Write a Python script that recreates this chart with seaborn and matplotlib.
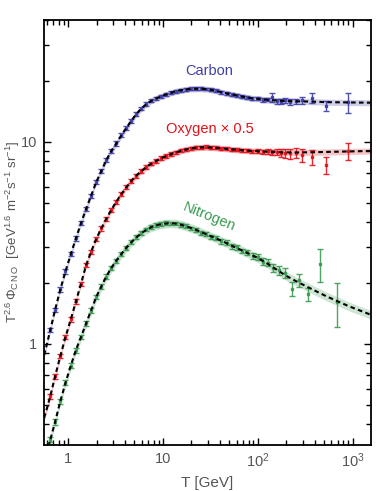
import numpy as np
import pandas as pd
import matplotlib
matplotlib.use("Agg")
import matplotlib.pyplot as plt
import seaborn as sns
from matplotlib.ticker import LogLocator, NullFormatter, FixedLocator, FixedFormatter

# measured energies (GeV/n) for carbon and oxygen
e_co = [0.65, 0.73, 0.83, 0.94, 1.07, 1.21, 1.37, 1.55, 1.75, 1.98, 2.24, 2.53, 2.86, 3.23,
        3.65, 4.12, 4.65, 5.25, 5.93, 6.70, 7.57, 8.55, 9.66, 10.9, 12.3, 13.9, 15.7, 17.7,
        20.0, 22.6, 25.5, 28.8, 32.5, 36.7, 41.5, 46.9, 53.0, 60.0, 68.0, 77.0, 88.0, 100,
        113, 127, 142, 158, 176, 196, 220, 254, 295, 375, 527, 895]
# measured energies for nitrogen
e_n = [0.65, 0.73, 0.83, 0.94, 1.07, 1.21, 1.37, 1.55, 1.75, 1.98, 2.24, 2.53, 2.86, 3.23,
       3.65, 4.12, 4.65, 5.25, 5.93, 6.70, 7.57, 8.55, 9.66, 10.9, 12.3, 13.9, 15.7, 17.7,
       20.0, 22.6, 25.5, 28.8, 32.5, 36.7, 41.5, 46.9, 53.0, 60.0, 68.0, 77.0, 89, 101,
       114, 128, 145, 168, 194, 232, 272, 339, 456, 686]

carbon = [1.17, 1.47, 1.86, 2.28, 2.78, 3.32, 3.95, 4.65, 5.40, 6.30, 7.15, 8.10, 9.00, 9.80,
          10.75, 11.7, 12.7, 13.7, 14.6, 15.4, 15.95, 16.4, 16.8, 17.2, 17.5, 17.8, 18.0, 18.1,
          18.3, 18.3, 18.35, 18.25, 18.05, 17.9, 17.55, 17.4, 17.1, 17.0, 16.7, 16.6, 16.35, 16.4,
          16.1, 16.2, 16.6, 15.9, 15.8, 16.0, 15.7, 15.85, 16.0, 16.5, 15.0, 15.65]
carbon_err = [0.03, 0.04, 0.05, 0.06, 0.07, 0.08, 0.10, 0.11, 0.13, 0.15, 0.17, 0.19, 0.21, 0.23,
              0.25, 0.27, 0.28, 0.3, 0.3, 0.3, 0.3, 0.3, 0.3, 0.3, 0.3, 0.3, 0.3, 0.3,
              0.3, 0.3, 0.3, 0.3, 0.3, 0.3, 0.3, 0.3, 0.3, 0.3, 0.3, 0.3, 0.3, 0.3,
              0.35, 0.35, 0.8, 0.45, 0.45, 0.5, 0.5, 0.5, 0.6, 1.0, 0.85, 1.75]

oxygen = [0.55, 0.69, 0.87, 1.08, 1.32, 1.62, 1.98, 2.45, 2.85, 3.30, 3.72, 4.15, 4.60, 5.05,
          5.50, 5.95, 6.40, 6.80, 7.15, 7.50, 7.80, 8.05, 8.30, 8.50, 8.70, 8.85, 9.05, 9.2,
          9.3, 9.4, 9.4, 9.45, 9.35, 9.35, 9.25, 9.25, 9.15, 9.15, 9.05, 9.05, 8.95, 9.0,
          8.9, 8.95, 8.85, 8.9, 8.8, 8.8, 8.75, 8.8, 8.6, 8.4, 7.65, 9.0]
oxygen_err = [0.015, 0.018, 0.022, 0.027, 0.033, 0.04, 0.05, 0.06, 0.07, 0.08, 0.09, 0.1, 0.11, 0.12,
              0.13, 0.14, 0.15, 0.15, 0.16, 0.16, 0.16, 0.16, 0.16, 0.16, 0.16, 0.16, 0.16, 0.16,
              0.16, 0.16, 0.16, 0.16, 0.16, 0.16, 0.16, 0.16, 0.16, 0.16, 0.16, 0.17, 0.18, 0.2,
              0.22, 0.24, 0.3, 0.35, 0.4, 0.45, 0.5, 0.5, 0.65, 0.7, 0.75, 0.9]

nitrogen = [0.335, 0.41, 0.52, 0.64, 0.78, 0.93, 1.08, 1.26, 1.46, 1.70, 1.92, 2.15, 2.37, 2.58,
            2.79, 2.98, 3.18, 3.36, 3.52, 3.68, 3.78, 3.87, 3.91, 3.95, 3.94, 3.94, 3.87, 3.82,
            3.72, 3.67, 3.55, 3.50, 3.38, 3.34, 3.21, 3.17, 3.04, 3.0, 2.88, 2.84, 2.72, 2.68,
            2.55, 2.52, 2.38, 2.31, 2.24, 1.87, 2.07, 1.76, 2.49, 1.61]
nitrogen_err = [0.01, 0.012, 0.015, 0.018, 0.021, 0.025, 0.03, 0.034, 0.038, 0.043, 0.048, 0.053, 0.058, 0.062,
                0.066, 0.07, 0.072, 0.075, 0.078, 0.08, 0.08, 0.08, 0.08, 0.08, 0.08, 0.08, 0.08, 0.08,
                0.08, 0.08, 0.08, 0.08, 0.08, 0.08, 0.08, 0.08, 0.08, 0.08, 0.08, 0.08, 0.085, 0.09,
                0.1, 0.1, 0.11, 0.12, 0.13, 0.15, 0.15, 0.13, 0.47, 0.4]

# model (fit) curves
e_fit = [0.56, 0.60, 0.65, 0.73, 0.83, 0.94, 1.07, 1.21, 1.37, 1.55, 1.75, 1.98, 2.24, 2.53,
         2.86, 3.23, 3.65, 4.12, 4.65, 5.25, 5.93, 6.70, 7.57, 8.55, 9.66, 10.9, 12.3, 13.9,
         15.7, 17.7, 20.0, 22.6, 25.5, 28.8, 32.5, 36.7, 41.5, 46.9, 53.0, 60.0, 68.0, 77.0,
         88.0, 100, 127, 158, 196, 254, 375, 527, 895, 1570]
carbon_fit = [0.88, 1.0, 1.17, 1.47, 1.86, 2.28, 2.78, 3.32, 3.95, 4.65, 5.40, 6.30, 7.15, 8.10,
              9.00, 9.80, 10.75, 11.7, 12.7, 13.7, 14.6, 15.35, 15.95, 16.4, 16.8, 17.15, 17.5, 17.8,
              18.0, 18.15, 18.25, 18.3, 18.3, 18.2, 18.05, 17.85, 17.6, 17.35, 17.15, 16.95, 16.75, 16.55,
              16.4, 16.3, 16.1, 16.0, 15.9, 15.85, 15.8, 15.7, 15.65, 15.6]
oxygen_fit = [0.43, 0.48, 0.55, 0.69, 0.87, 1.08, 1.32, 1.62, 1.98, 2.45, 2.85, 3.30, 3.72, 4.15,
              4.60, 5.05, 5.50, 5.95, 6.40, 6.80, 7.15, 7.50, 7.80, 8.05, 8.30, 8.50, 8.70, 8.87,
              9.03, 9.16, 9.27, 9.34, 9.38, 9.38, 9.36, 9.32, 9.27, 9.22, 9.17, 9.12, 9.08, 9.04,
              9.0, 8.97, 8.92, 8.88, 8.86, 8.85, 8.87, 8.9, 8.95, 9.0]
nitrogen_fit = [0.26, 0.29, 0.335, 0.41, 0.52, 0.64, 0.78, 0.93, 1.08, 1.26, 1.46, 1.70, 1.92, 2.15,
                2.37, 2.58, 2.78, 2.99, 3.18, 3.36, 3.52, 3.67, 3.78, 3.86, 3.91, 3.94, 3.95, 3.93,
                3.88, 3.81, 3.74, 3.66, 3.57, 3.48, 3.40, 3.32, 3.23, 3.15, 3.06, 2.98, 2.90, 2.82,
                2.74, 2.66, 2.49, 2.33, 2.18, 2.04, 1.86, 1.72, 1.54, 1.39]
band = {"Carbon": 0.035, "Oxygen": 0.035, "Nitrogen": 0.05}

colors = {"Carbon": "#3f3fa6", "Oxygen": "#e3121b", "Nitrogen": "#3a9a52"}
gray = "#555555"

sns.set_style("ticks")
plt.rcParams["font.family"] = ["Liberation Sans", "DejaVu Sans"]
plt.rcParams["mathtext.fontset"] = "custom"
plt.rcParams["mathtext.rm"] = "Liberation Sans"
plt.rcParams["mathtext.it"] = "Liberation Sans:italic"
plt.rcParams["mathtext.bf"] = "Liberation Sans:bold"

fig = plt.figure(figsize=(3.76, 4.91), dpi=100)
ax = fig.add_axes([0.117, 0.094, 0.870, 0.866])

series = [("Carbon", e_co, carbon, carbon_err, carbon_fit),
          ("Oxygen", e_co, oxygen, oxygen_err, oxygen_fit),
          ("Nitrogen", e_n, nitrogen, nitrogen_err, nitrogen_fit)]

for name, e, y, err, fit in series:
    c = colors[name]
    fit = np.array(fit)
    ax.fill_between(e_fit, fit * (1 - band[name]), fit * (1 + band[name]),
                    color=c, alpha=0.25, lw=0, zorder=1)
    ax.errorbar(e, y, yerr=err, fmt="s", ms=2.0, color=c, ecolor=c, elinewidth=1.0,
                capsize=2.2, capthick=1.0, alpha=0.9, zorder=2)
    df = pd.DataFrame({"E": e_fit, "flux": fit})
    sns.lineplot(data=df, x="E", y="flux", ax=ax, color="black", lw=1.5,
                 linestyle=(0, (2.2, 1.6)), zorder=3)

ax.set_xscale("log")
ax.set_yscale("log")
ax.set_xlim(0.558, 1570)
ax.set_ylim(0.316, 40.2)

ax.xaxis.set_major_locator(FixedLocator([1, 10, 100, 1000]))
ax.xaxis.set_major_formatter(FixedFormatter(["1", "10", r"10$^2$", r"10$^3$"]))
ax.xaxis.set_minor_locator(LogLocator(base=10, subs=np.arange(2, 10), numticks=20))
ax.xaxis.set_minor_formatter(NullFormatter())
ax.yaxis.set_major_locator(FixedLocator([1, 10]))
ax.yaxis.set_major_formatter(FixedFormatter(["1", "10"]))
ax.yaxis.set_minor_locator(LogLocator(base=10, subs=np.arange(2, 10), numticks=20))
ax.yaxis.set_minor_formatter(NullFormatter())

ax.tick_params(which="both", direction="in", top=True, right=True, colors="black",
               labelcolor=gray, labelsize=10.5, width=1.0)
ax.tick_params(which="major", length=5, pad=5)
ax.tick_params(which="minor", length=3.5)
for s in ax.spines.values():
    s.set_linewidth(1.3)
    s.set_color("black")

ax.set_xlabel("T [GeV]", color=gray, fontsize=11, labelpad=4)
ax.set_ylabel(r"T$^{2.6}\,\Phi_{\rm C\,N\,O}$  [GeV$^{1.6}$ m$^{-2}$s$^{-1}$ sr$^{-1}$]",
              color=gray, fontsize=9.5)
ax.yaxis.set_label_coords(-0.068, 0.5)

ax.text(31, 22.4, "Carbon", color=colors["Carbon"], fontsize=10.5, ha="center", va="center")
ax.text(31, 11.5, "Oxygen \u00d7 0.5", color=colors["Oxygen"], fontsize=10.5, ha="center", va="center")
ax.text(31, 4.25, "Nitrogen", color=colors["Nitrogen"], fontsize=10.5, ha="center", va="center",
        rotation=-22)

fig.savefig("out.png", dpi=100)
